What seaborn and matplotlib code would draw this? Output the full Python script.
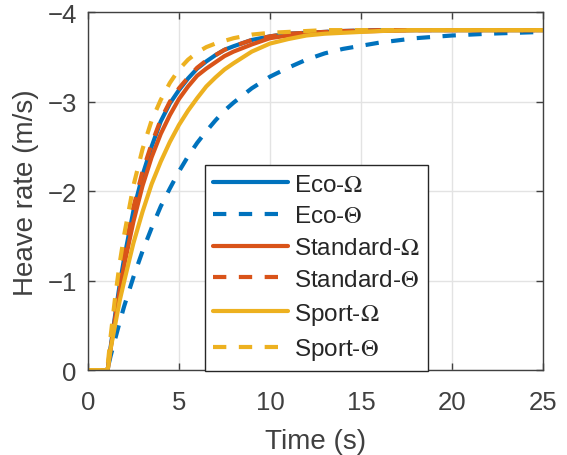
import matplotlib
matplotlib.use("Agg")
import matplotlib.pyplot as plt
import seaborn as sns
import pandas as pd

# Sample times (s)
time_s = [0, 1.0, 1.1, 1.25, 1.5, 1.75, 2.0, 2.5, 3.0, 3.5, 4.0, 4.5, 5.0,
          5.5, 6.0, 6.5, 7.0, 7.5, 8.0, 9, 10, 11, 12, 13, 14, 16, 18, 20,
          22, 25]

# Heave rate responses (m/s)
eco_omega = [0, 0, -0.02, -0.26, -0.62, -0.96, -1.26, -1.78, -2.18, -2.50,
             -2.78, -2.98, -3.13, -3.26, -3.37, -3.45, -3.52, -3.58, -3.62,
             -3.69, -3.73, -3.76, -3.77, -3.78, -3.79, -3.80, -3.80, -3.80,
             -3.80, -3.80]
eco_theta = [0, 0, -0.03, -0.16, -0.35, -0.54, -0.72, -1.04, -1.33, -1.59,
             -1.83, -2.03, -2.22, -2.39, -2.54, -2.67, -2.79, -2.90, -2.99,
             -3.15, -3.28, -3.38, -3.47, -3.54, -3.59, -3.66, -3.71, -3.74,
             -3.76, -3.78]
standard_omega = [0, 0, -0.02, -0.24, -0.59, -0.90, -1.18, -1.66, -2.06,
                  -2.38, -2.64, -2.85, -3.03, -3.17, -3.29, -3.37, -3.44,
                  -3.51, -3.56, -3.64, -3.71, -3.74, -3.76, -3.77, -3.78,
                  -3.79, -3.80, -3.80, -3.80, -3.80]
standard_theta = [0, 0, -0.04, -0.29, -0.66, -1.00, -1.30, -1.82, -2.22,
                  -2.53, -2.80, -3.00, -3.15, -3.27, -3.38, -3.46, -3.52,
                  -3.58, -3.62, -3.69, -3.73, -3.76, -3.77, -3.78, -3.79,
                  -3.80, -3.80, -3.80, -3.80, -3.80]
sport_omega = [0, 0, -0.02, -0.24, -0.51, -0.78, -1.00, -1.42, -1.77, -2.08,
               -2.33, -2.55, -2.74, -2.90, -3.04, -3.17, -3.27, -3.36, -3.43,
               -3.56, -3.65, -3.70, -3.74, -3.76, -3.77, -3.79, -3.80, -3.80,
               -3.80, -3.80]
sport_theta = [0, 0, -0.08, -0.38, -0.82, -1.20, -1.52, -2.06, -2.47, -2.79,
               -3.02, -3.21, -3.36, -3.47, -3.55, -3.61, -3.65, -3.68, -3.71,
               -3.75, -3.77, -3.78, -3.79, -3.80, -3.80, -3.80, -3.80, -3.80,
               -3.80, -3.80]

series_labels = ["Eco-$\\Omega$", "Eco-$\\Theta$", "Standard-$\\Omega$",
                 "Standard-$\\Theta$", "Sport-$\\Omega$", "Sport-$\\Theta$"]
series_values = [eco_omega, eco_theta, standard_omega, standard_theta,
                 sport_omega, sport_theta]
series_colors = ["#0072BD", "#0072BD", "#D95319", "#D95319", "#EDB120", "#EDB120"]
series_dashed = [False, True, False, True, False, True]

x_ticks = [0, 5, 10, 15, 20, 25]
y_ticks = [0, -1, -2, -3, -4]

sns.set_style("ticks")
plt.rcParams["font.family"] = ["Liberation Sans", "DejaVu Sans"]
plt.rcParams["mathtext.fontset"] = "stix"

axis_gray = "#404040"

fig = plt.figure(figsize=(5.67, 4.56), dpi=100)
ax = fig.add_axes([0.155, 0.186, 0.803, 0.785])

for label, values, color, dashed in zip(series_labels, series_values,
                                        series_colors, series_dashed):
    df = pd.DataFrame({"t": time_s, "v": values})
    sns.lineplot(data=df, x="t", y="v", ax=ax, color=color, lw=3.0,
                 label=label)
    if dashed:
        ax.lines[-1].set_dashes((3.2, 3.0))
    ax.lines[-1].set_dash_capstyle("butt")

ax.set_xlim(0, 25)
ax.set_ylim(0, -4)
ax.set_xticks(x_ticks)
ax.set_yticks(y_ticks)
ax.grid(True, color="#e3e3e3", lw=1.0)
ax.set_axisbelow(True)

for side in ["top", "right", "bottom", "left"]:
    ax.spines[side].set_visible(True)
    ax.spines[side].set_color(axis_gray)
    ax.spines[side].set_linewidth(1.0)

ax.tick_params(direction="in", length=5, width=1.0, top=True, right=True,
               color=axis_gray, labelcolor=axis_gray, labelsize=18.5, pad=8)
ax.tick_params(axis="x", pad=14)

ax.set_xlabel("Time (s)", fontsize=20, color=axis_gray, labelpad=10)
ax.set_ylabel("Heave rate (m/s)", fontsize=20, color=axis_gray, labelpad=6)

leg = ax.legend(loc="upper left", bbox_to_anchor=(0.257, 0.573),
                fontsize=17.5, frameon=True, fancybox=False, borderpad=0.35,
                labelspacing=0.4, handlelength=3.05, handletextpad=0.25,
                borderaxespad=0)
leg.get_frame().set_edgecolor("#262626")
leg.get_frame().set_linewidth(1.0)
leg.get_frame().set_alpha(1.0)
for txt in leg.get_texts():
    txt.set_color("#262626")

fig.savefig("out.png", dpi=100)
